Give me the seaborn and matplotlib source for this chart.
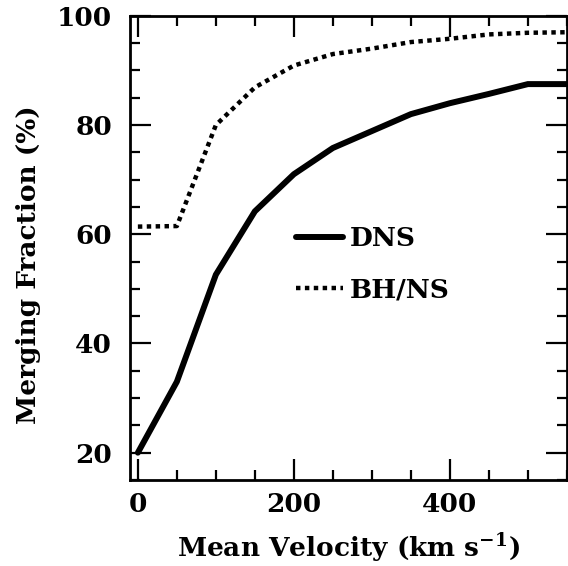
import matplotlib
matplotlib.use("Agg")
import matplotlib.pyplot as plt
import seaborn as sns
import pandas as pd
from matplotlib.ticker import MultipleLocator

velocity = [0, 50, 100, 150, 200, 250, 300, 350, 400, 450, 500, 550]
dns = [20, 33, 52.6, 64.2, 71, 75.8, 78.9, 82, 84, 85.7, 87.5, 87.5]
bhns = [61.4, 61.5, 80, 86.9, 90.9, 93, 94, 95.2, 95.8, 96.6, 96.9, 97]

sns.set_style("ticks")
plt.rcParams['font.family'] = ['DejaVu Serif']
plt.rcParams['font.weight'] = 'bold'
plt.rcParams['mathtext.fontset'] = 'dejavuserif'
plt.rcParams['mathtext.default'] = 'bf'
plt.rcParams['text.color'] = 'black'
plt.rcParams['axes.labelcolor'] = 'black'
plt.rcParams['xtick.color'] = 'black'
plt.rcParams['ytick.color'] = 'black'

df = pd.DataFrame({
    'velocity': velocity * 2,
    'fraction': dns + bhns,
    'model': ['DNS'] * len(dns) + ['BH/NS'] * len(bhns),
})

fig = plt.figure(figsize=(5.68, 5.66), dpi=100)
ax = fig.add_axes([0.229, 0.152, 0.769, 0.820])

sns.lineplot(data=df[df.model == 'DNS'], x='velocity', y='fraction', ax=ax,
             color='black', lw=4.3, label='DNS', solid_joinstyle='miter')
sns.lineplot(data=df[df.model == 'BH/NS'], x='velocity', y='fraction', ax=ax,
             color='black', lw=3.2, linestyle=(0, (1, 1)), label='BH/NS')

ax.set_xlim(-10, 550)
ax.set_ylim(15, 100)
ax.xaxis.set_major_locator(MultipleLocator(200))
ax.xaxis.set_minor_locator(MultipleLocator(50))
ax.yaxis.set_major_locator(MultipleLocator(20))
ax.yaxis.set_minor_locator(MultipleLocator(5))
ax.tick_params(which='both', direction='in', top=True, right=True, width=1.6, color='black')
ax.tick_params(which='major', length=15)
ax.tick_params(which='minor', length=7.5)
ax.tick_params(axis='x', which='major', pad=9, labelsize=19)
ax.tick_params(axis='y', which='major', pad=13, labelsize=19)
for s in ax.spines.values():
    s.set_linewidth(2)
    s.set_color('black')

ax.set_xlabel(r'Mean Velocity (km s$^{-1}$)', fontsize=19, fontweight='bold', labelpad=10)
ax.set_ylabel('Merging Fraction (%)', fontsize=19, fontweight='bold')
ax.yaxis.set_label_coords(-0.204, 0.463)

leg = ax.legend(loc='upper left', bbox_to_anchor=(0.355, 0.57), frameon=False,
                fontsize=19, handlelength=1.8, handletextpad=0.25, labelspacing=1.0,
                borderaxespad=0)

fig.savefig('out.png', dpi=100)
